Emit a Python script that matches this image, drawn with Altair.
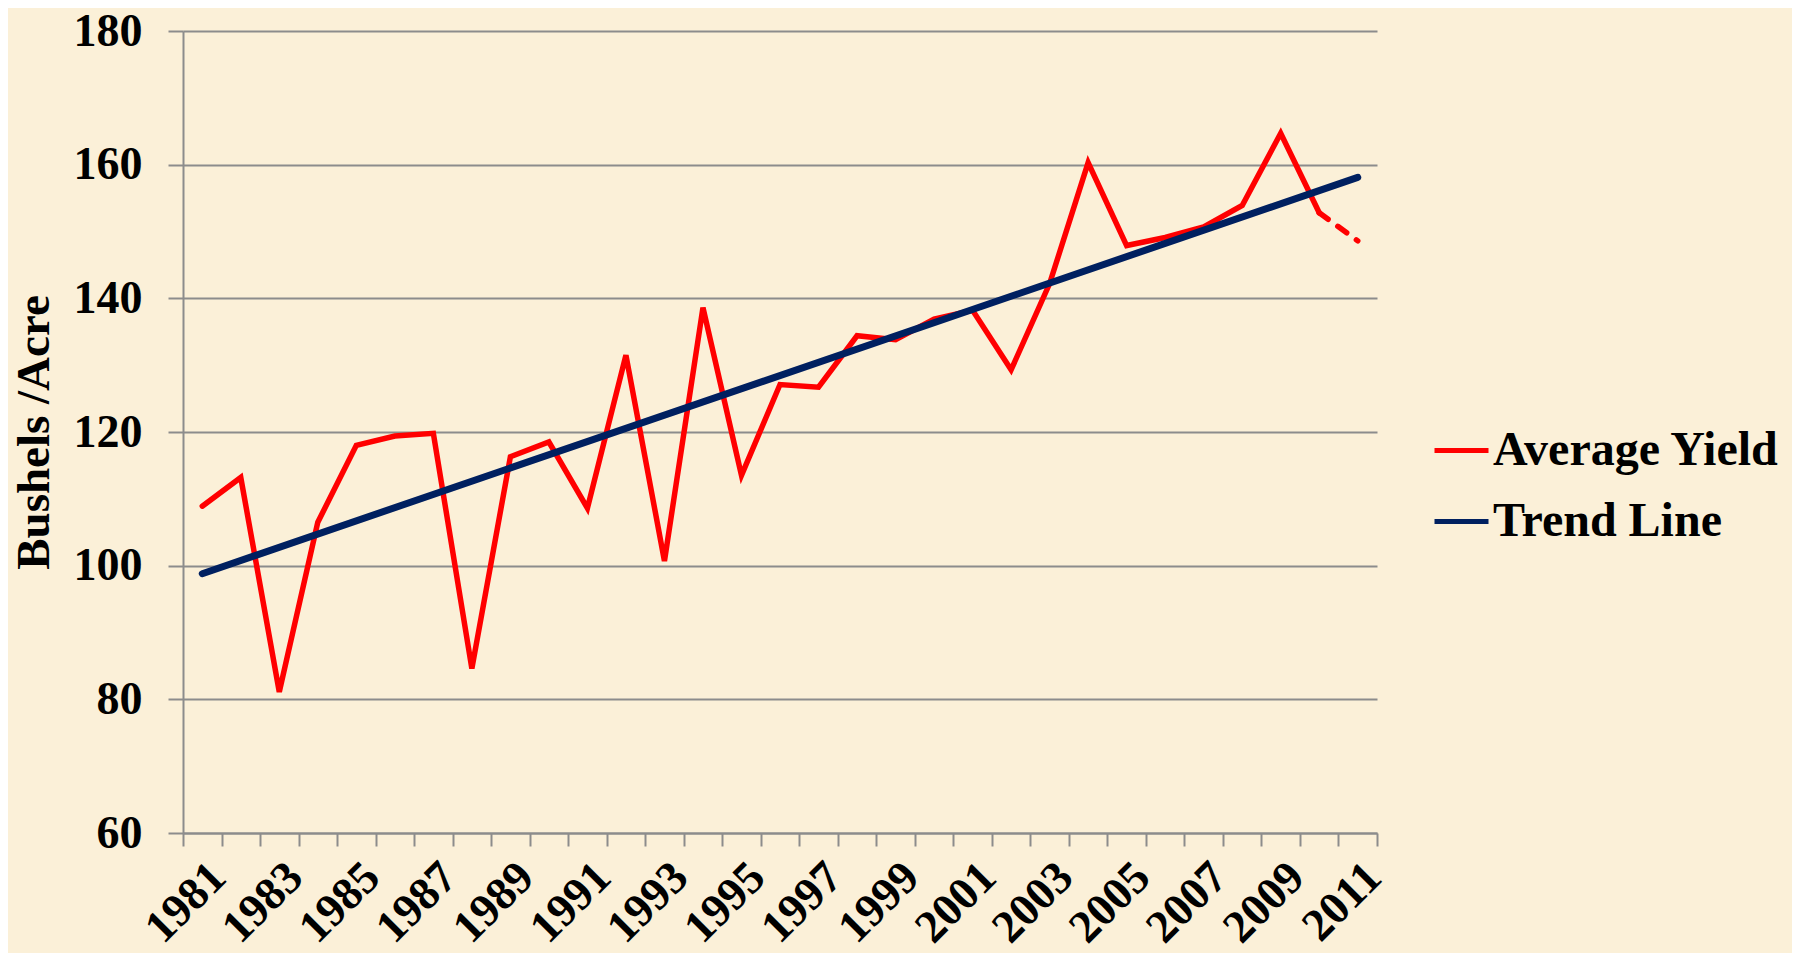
import altair as alt
import pandas as pd

years = list(range(1981, 2012))
avg_yield = [108.9, 113.2, 81.1, 106.5, 118.0, 119.4, 119.8, 84.6, 116.3, 118.5,
             108.6, 131.5, 100.7, 138.6, 113.5, 127.1, 126.7, 134.4, 133.8, 136.9,
             138.2, 129.3, 142.2, 160.3, 147.9, 149.1, 150.7, 153.9, 164.7, 152.8,
             148.6]
trend_years = [1981, 2011]
trend_vals = [98.8, 158.1]
y_ticks = [60, 80, 100, 120, 140, 160, 180]

FONT = "Liberation Serif"
BG = "#FBF0D8"
GRID = "#8C8C8C"

solid = pd.DataFrame({"year": years[:-1], "value": avg_yield[:-1], "series": "Average Yield"})
dashed = pd.DataFrame({"year": years[-2:], "value": avg_yield[-2:], "series": "Average Yield"})
trend = pd.DataFrame({"year": trend_years, "value": trend_vals, "series": "Trend Line"})

xenc = alt.X(
    "year:O",
    scale=alt.Scale(type="band", domain=years, paddingInner=0, paddingOuter=0),
    axis=alt.Axis(
        title=None,
        tickBand="extent",
        labelExpr="datum.value % 2 == 1 ? datum.label : ''",
        labelOverlap=False,
        labelAngle=-45,
        labelFont=FONT,
        labelFontWeight="bold",
        labelFontSize=46,
        labelColor="black",
        labelPadding=8,
        tickSize=13,
        tickColor=GRID,
        tickWidth=2,
        domainColor=GRID,
        domainWidth=2,
        grid=False,
    ),
)
yenc = alt.Y(
    "value:Q",
    scale=alt.Scale(domain=[60, 180], nice=False, zero=False),
    axis=alt.Axis(
        title="Bushels /Acre",
        values=y_ticks,
        titleFont=FONT,
        titleFontWeight="bold",
        titleFontSize=47,
        titleColor="black",
        titlePadding=15,
        labelFont=FONT,
        labelFontWeight="bold",
        labelFontSize=46,
        labelColor="black",
        labelPadding=26,
        tickSize=15,
        tickColor=GRID,
        tickWidth=2,
        domainColor=GRID,
        domainWidth=2,
        grid=True,
        gridColor=GRID,
        gridWidth=2,
    ),
)
color = alt.Color(
    "series:N",
    scale=alt.Scale(domain=["Average Yield", "Trend Line"], range=["#FF0000", "#002060"]),
    legend=alt.Legend(
        title=None,
        orient="none",
        legendX=1249,
        legendY=390,
        symbolType="stroke",
        symbolSize=2916,
        symbolStrokeWidth=5,
        labelFont=FONT,
        labelFontWeight="bold",
        labelFontSize=48,
        labelColor="black",
        labelLimit=0,
        labelOffset=2,
        rowPadding=17,
    ),
)

l1 = alt.Chart(solid).mark_line(strokeWidth=5.5, strokeCap="round", strokeJoin="miter").encode(x=xenc, y=yenc, color=color)
l2 = alt.Chart(dashed).mark_line(strokeWidth=5.5, strokeCap="round", strokeDash=[11, 12]).encode(x=xenc, y=yenc, color=color)
l3 = alt.Chart(trend).mark_line(strokeWidth=7, strokeCap="round").encode(x=xenc, y=yenc, color=color)

chart = (
    alt.layer(l1, l2, l3)
    .properties(
        width=1194,
        height=802,
        autosize=alt.AutoSizeParams(type="none"),
        padding={"left": 175, "top": 23, "right": 415, "bottom": 120},
        background=BG,
    )
    .configure_view(stroke=None)
)

chart.save("out.html", embed_options={"renderer": "svg", "actions": False})
